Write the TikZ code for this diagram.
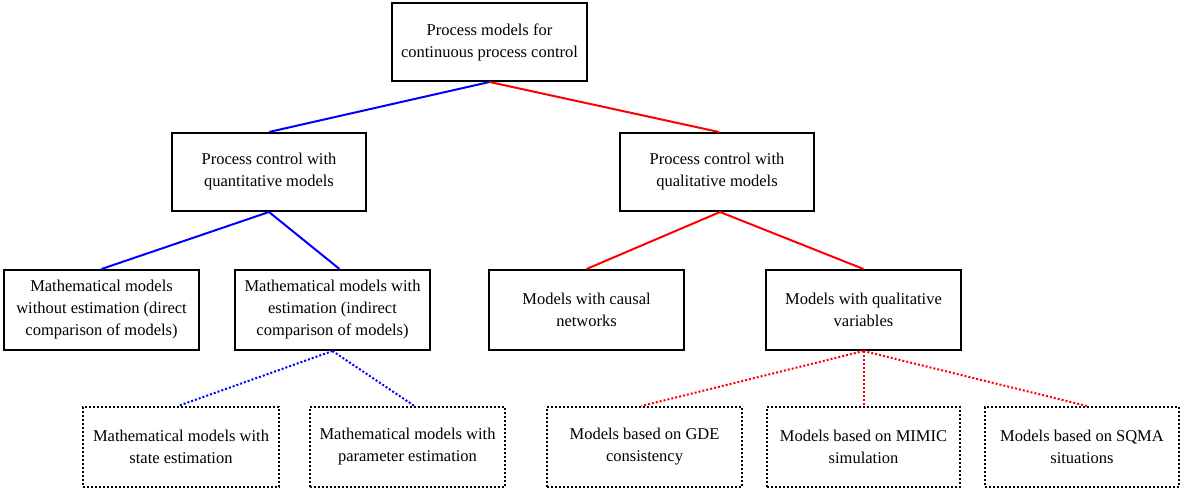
\documentclass[tikz,border=0pt]{standalone}
\usepackage{fontspec}
\setmainfont{Liberation Serif}
\begin{document}
\begin{tikzpicture}[x=1pt,y=-1pt,
  font=\fontsize{16.5}{22}\selectfont,
  base/.style={rectangle,align=center,inner sep=2pt,minimum height=78pt,minimum width=195pt},
  solidbox/.style={base,draw=black,line width=2pt},
  dotbox/.style={base,draw=black,line width=2pt,dotted,minimum height=80pt},
  quant/.style={draw={rgb,255:red,0;green,0;blue,255},line width=2pt},
  qual/.style={draw={rgb,255:red,255;green,0;blue,0},line width=2pt},
  quantdot/.style={quant,dotted},
  qualdot/.style={qual,dotted}]
\useasboundingbox (0,0) rectangle (1180,490);

% top level
\node[solidbox] (root) at (489.5,42) {Process models for\\continuous process control};

% second level
\node[solidbox,minimum width=194pt] (quanti) at (269,172) {Process control with\\quantitative models};
\node[solidbox,minimum width=194pt] (quali) at (717,172) {Process control with\\qualitative models};

% third level
\node[solidbox,minimum height=80pt] (nonest) at (101.5,310) {Mathematical models\\without estimation (direct\\comparison of models)};
\node[solidbox,minimum height=80pt] (withest) at (332.5,310) {Mathematical models with\\estimation (indirect\\comparison of models)};
\node[solidbox,minimum height=80pt] (causal) at (586.5,310) {Models with causal\\networks};
\node[solidbox,minimum height=80pt] (qvars) at (863.5,310) {Models with qualitative\\variables};

% fourth level
\node[dotbox,minimum width=196pt] (state) at (181,447) {Mathematical models with\\state estimation};
\node[dotbox] (param) at (407.5,447) {Mathematical models with\\parameter estimation};
\node[dotbox] (gde) at (644.5,447) {Models based on GDE\\consistency};
\node[dotbox,minimum width=193pt] (mimic) at (863.5,447) {Models based on MIMIC\\simulation};
\node[dotbox,minimum width=194pt] (sqma) at (1082,447) {Models based on SQMA\\situations};

% connectors
\draw[quant] (root.south) -- (quanti.north);
\draw[qual] (root.south) -- ([xshift=2pt]quali.north);
\draw[quant] (quanti.south) -- (nonest.north);
\draw[quant] (quanti.south) -- ([xshift=7pt]withest.north);
\draw[qual] ([xshift=3pt]quali.south) -- (causal.north);
\draw[qual] ([xshift=3pt]quali.south) -- (qvars.north);
\draw[quantdot] (withest.south) -- ([xshift=-3pt]state.north);
\draw[quantdot] (withest.south) -- ([xshift=7pt]param.north);
\draw[qualdot] (qvars.south) -- ([xshift=-3pt]gde.north);
\draw[qualdot] (qvars.south) -- (mimic.north);
\draw[qualdot] (qvars.south) -- ([xshift=5pt]sqma.north);
\end{tikzpicture}
\end{document}
